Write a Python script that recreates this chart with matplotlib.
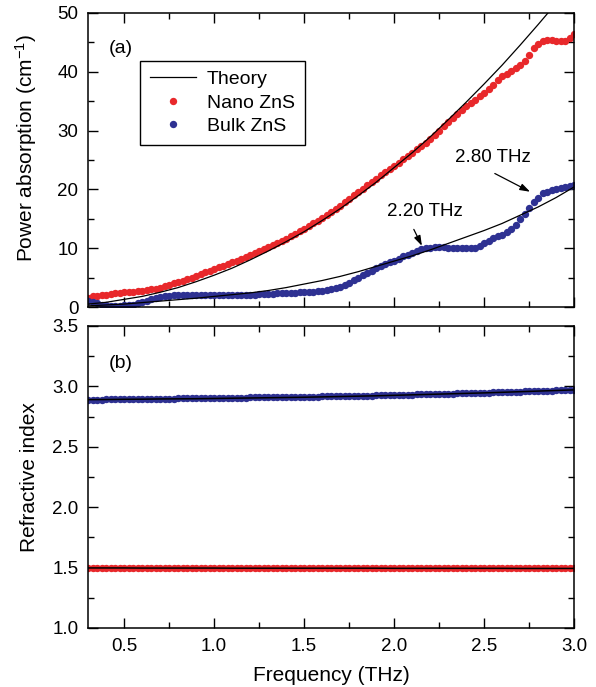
import numpy as np
import matplotlib
matplotlib.use("Agg")
import matplotlib.pyplot as plt
from matplotlib.ticker import MultipleLocator

plt.rcParams['font.family'] = ['Liberation Sans', 'DejaVu Sans']
plt.rcParams['mathtext.fontset'] = 'custom'
plt.rcParams['mathtext.rm'] = 'Liberation Sans'
plt.rcParams['mathtext.it'] = 'Liberation Sans:italic'

# measured frequency grid (THz), 0.025 THz step
freq = np.round(np.arange(0.3, 3.0001, 0.025), 3)

# power absorption (cm^-1)
alpha_nano = [
    1.6, 1.8, 1.9, 2.0, 2.1, 2.2, 2.3, 2.4, 2.5,
    2.5, 2.6, 2.7, 2.8, 2.9, 3.0, 3.1, 3.3, 3.5, 3.8,
    4.0, 4.3, 4.5, 4.8, 5.0, 5.3, 5.6, 5.9, 6.2, 6.5,
    6.8, 7.0, 7.3, 7.6, 7.9, 8.2, 8.5, 8.8, 9.2, 9.5,
    9.9, 10.2, 10.5, 10.9, 11.2, 11.6, 12.0, 12.4, 12.9, 13.3,
    13.8, 14.2, 14.7, 15.2, 15.7, 16.2, 16.7, 17.2, 17.8, 18.4,
    19.0, 19.6, 20.1, 20.7, 21.2, 21.8, 22.4, 22.9, 23.5, 24.0,
    24.5, 25.1, 25.7, 26.2, 26.8, 27.3, 27.9, 28.5, 29.2, 29.9,
    30.7, 31.4, 32.1, 32.8, 33.5, 34.1, 34.6, 35.2, 35.8, 36.4,
    37.1, 37.8, 38.6, 39.2, 39.7, 40.2, 40.7, 41.2, 41.9, 42.9,
    44.0, 44.8, 45.3, 45.4, 45.4, 45.3, 45.2, 45.2, 45.8, 46.5,
]
alpha_bulk = [
    1.0, 0.8, 0.6, 0.4, 0.3, 0.2, 0.2, 0.2, 0.3,
    0.3, 0.4, 0.6, 0.8, 1.1, 1.3, 1.5, 1.7, 1.8, 1.9,
    2.0, 2.0, 2.0, 2.1, 2.1, 2.1, 2.1, 2.1, 2.1, 2.1,
    2.1, 2.1, 2.1, 2.1, 2.1, 2.1, 2.1, 2.1, 2.1, 2.2,
    2.2, 2.2, 2.2, 2.3, 2.3, 2.3, 2.4, 2.4, 2.5, 2.5,
    2.6, 2.6, 2.7, 2.8, 2.9, 3.0, 3.2, 3.4, 3.7, 4.1,
    4.6, 5.0, 5.4, 5.8, 6.2, 6.6, 6.9, 7.3, 7.6, 7.9,
    8.2, 8.6, 8.9, 9.2, 9.5, 9.8, 10.0, 10.1, 10.2, 10.2,
    10.2, 10.1, 10.0, 10.0, 10.0, 10.0, 10.0, 10.1, 10.4, 10.9,
    11.3, 11.7, 12.0, 12.3, 12.7, 13.2, 14.0, 14.9, 15.8, 16.8,
    17.8, 18.6, 19.3, 19.6, 19.9, 20.1, 20.3, 20.4, 20.6, 20.7,
]

# theory curves, 0.1 THz step
freq_th = np.round(np.arange(0.3, 3.0001, 0.1), 2)
alpha_nano_th = [0.5, 0.8, 1.3, 1.8, 2.5, 3.3, 4.3, 5.4, 6.6, 8.0, 9.5, 11.1, 12.8, 14.7,
                 16.7, 18.9, 21.2, 23.7, 26.2, 28.9, 31.8, 34.8, 37.9, 41.1, 44.5, 48.0, 51.6, 55.3]
alpha_bulk_th = [0.2, 0.35, 0.5, 0.75, 1.0, 1.25, 1.5, 1.8, 2.1, 2.4, 2.8, 3.3, 3.9, 4.5,
                 5.2, 6.0, 6.9, 7.8, 8.7, 9.7, 10.8, 11.9, 13.0, 14.2, 15.6, 17.0, 18.6, 20.4]

# refractive index
n_bulk = [
    2.890, 2.890, 2.891, 2.891, 2.892, 2.892, 2.893, 2.893, 2.894,
    2.894, 2.895, 2.895, 2.896, 2.896, 2.897, 2.897, 2.898, 2.898, 2.899,
    2.899, 2.900, 2.900, 2.901, 2.901, 2.902, 2.902, 2.903, 2.903, 2.904,
    2.904, 2.905, 2.905, 2.906, 2.906, 2.907, 2.907, 2.908, 2.908, 2.909,
    2.909, 2.910, 2.910, 2.911, 2.911, 2.912, 2.912, 2.913, 2.913, 2.914,
    2.915, 2.915, 2.916, 2.917, 2.917, 2.918, 2.919, 2.919, 2.920, 2.921,
    2.921, 2.922, 2.923, 2.923, 2.924, 2.925, 2.925, 2.926, 2.927, 2.928,
    2.929, 2.930, 2.931, 2.932, 2.933, 2.934, 2.935, 2.936, 2.937, 2.938,
    2.939, 2.940, 2.941, 2.942, 2.943, 2.944, 2.945, 2.946, 2.947, 2.948,
    2.949, 2.950, 2.951, 2.953, 2.954, 2.955, 2.956, 2.957, 2.958, 2.959,
    2.960, 2.961, 2.962, 2.963, 2.964, 2.966, 2.967, 2.968, 2.969, 2.970,
]
n_nano = [
    1.497, 1.497, 1.497, 1.497, 1.497, 1.497, 1.497, 1.497, 1.496,
    1.496, 1.496, 1.496, 1.496, 1.496, 1.496, 1.496, 1.496, 1.496, 1.496,
    1.496, 1.496, 1.496, 1.496, 1.496, 1.496, 1.496, 1.496, 1.495, 1.495,
    1.495, 1.495, 1.495, 1.495, 1.495, 1.495, 1.495, 1.495, 1.495, 1.495,
    1.495, 1.495, 1.495, 1.495, 1.495, 1.495, 1.495, 1.495, 1.495, 1.495,
    1.495, 1.495, 1.495, 1.495, 1.495, 1.495, 1.495, 1.495, 1.495, 1.495,
    1.495, 1.494, 1.494, 1.494, 1.494, 1.494, 1.494, 1.494, 1.494, 1.494,
    1.494, 1.494, 1.494, 1.494, 1.494, 1.494, 1.494, 1.494, 1.494, 1.494,
    1.494, 1.494, 1.494, 1.494, 1.494, 1.494, 1.494, 1.494, 1.494, 1.494,
    1.494, 1.493, 1.493, 1.493, 1.493, 1.493, 1.493, 1.493, 1.493, 1.493,
    1.493, 1.493, 1.493, 1.493, 1.493, 1.493, 1.493, 1.493, 1.493, 1.493,
]
n_bulk_th = [2.890, 2.891, 2.893, 2.894, 2.896, 2.897, 2.898, 2.900, 2.902, 2.904, 2.906, 2.908,
             2.910, 2.913, 2.916, 2.919, 2.922, 2.926, 2.930, 2.934, 2.938, 2.942, 2.946, 2.951,
             2.956, 2.961, 2.966, 2.971]
n_nano_th = [1.497, 1.497, 1.497, 1.496, 1.496, 1.496, 1.496, 1.496, 1.495, 1.495, 1.495, 1.495,
             1.495, 1.495, 1.495, 1.495, 1.495, 1.494, 1.494, 1.494, 1.494, 1.494, 1.494, 1.494,
             1.493, 1.493, 1.493, 1.493]

RED = '#e8282b'
BLUE = '#2e3192'


def style_axis(ax):
    ax.tick_params(which='both', direction='in', top=True, right=True,
                   labelsize=13.5, width=1.0, pad=7)
    ax.tick_params(which='major', length=7)
    ax.tick_params(which='minor', length=4)
    ax.xaxis.set_major_locator(MultipleLocator(0.5))
    ax.xaxis.set_minor_locator(MultipleLocator(0.25))
    for sp in ax.spines.values():
        sp.set_linewidth(1.1)


fig = plt.figure(figsize=(5.96, 6.87), dpi=100)
ax1 = fig.add_axes([0.1477, 0.5531, 0.8154, 0.4281])
ax2 = fig.add_axes([0.1477, 0.0859, 0.8154, 0.4396])

# (a) power absorption
ax1.plot(freq, alpha_nano, 'o', color=RED, ms=5.3, mew=0, label='Nano ZnS', zorder=2)
ax1.plot(freq, alpha_bulk, 'o', color=BLUE, ms=5.3, mew=0, label='Bulk ZnS', zorder=2)
ax1.plot(freq_th, alpha_nano_th, '-', color='k', lw=0.9, label='Theory', zorder=3)
ax1.plot(freq_th, alpha_bulk_th, '-', color='k', lw=0.9, zorder=3)
ax1.set_xlim(0.3, 3.0)
ax1.set_ylim(0, 50)
ax1.yaxis.set_major_locator(MultipleLocator(10))
ax1.yaxis.set_minor_locator(MultipleLocator(5))
style_axis(ax1)
ax1.tick_params(labelbottom=False)
ax1.set_ylabel('Power absorption (cm$^{-1}$)', fontsize=15)
ax1.yaxis.set_label_coords(-0.101, 0.541)
ax1.text(0.043, 0.878, '(a)', transform=ax1.transAxes, fontsize=14, va='center')

handles, labels = ax1.get_legend_handles_labels()
order = [2, 0, 1]
leg = ax1.legend([handles[i] for i in order], [labels[i] for i in order],
                 loc='upper left', bbox_to_anchor=(0.107, 0.837), borderaxespad=0,
                 fontsize=14, numpoints=1, handlelength=2.4, handletextpad=0.55,
                 labelspacing=0.3, borderpad=0.5, fancybox=False, framealpha=1)
leg.get_frame().set_edgecolor('k')
leg.get_frame().set_linewidth(1.0)

arrow = dict(arrowstyle='-|>,head_length=0.6,head_width=0.2', color='k', lw=0.9,
             shrinkA=0, shrinkB=0)
ax1.annotate('', xy=(2.155, 10.4), xytext=(2.11, 13.2), arrowprops=arrow)
ax1.text(2.17, 16.2, '2.20 THz', fontsize=13.5, ha='center', va='center')
ax1.annotate('', xy=(2.756, 19.6), xytext=(2.56, 22.7), arrowprops=arrow)
ax1.text(2.548, 25.5, '2.80 THz', fontsize=13.5, ha='center', va='center')

# (b) refractive index
ax2.plot(freq, n_nano, 'o', color=RED, ms=5.3, mew=0, zorder=2)
ax2.plot(freq, n_bulk, 'o', color=BLUE, ms=5.3, mew=0, zorder=2)
ax2.plot(freq_th, n_nano_th, '-', color='k', lw=1.1, zorder=3)
ax2.plot(freq_th, n_bulk_th, '-', color='k', lw=1.1, zorder=3)
ax2.set_xlim(0.3, 3.0)
ax2.set_ylim(1.0, 3.5)
ax2.yaxis.set_major_locator(MultipleLocator(0.5))
ax2.yaxis.set_minor_locator(MultipleLocator(0.25))
ax2.yaxis.set_major_formatter('{x:.1f}')
ax2.xaxis.set_major_formatter('{x:.1f}')
style_axis(ax2)
ax2.set_ylabel('Refractive index', fontsize=15)
ax2.yaxis.set_label_coords(-0.101, 0.5)
ax2.set_xlabel('Frequency (THz)', fontsize=15, labelpad=8)
ax2.text(0.043, 0.876, '(b)', transform=ax2.transAxes, fontsize=14, va='center')

fig.savefig('out.png', dpi=100)
plt.close(fig)
